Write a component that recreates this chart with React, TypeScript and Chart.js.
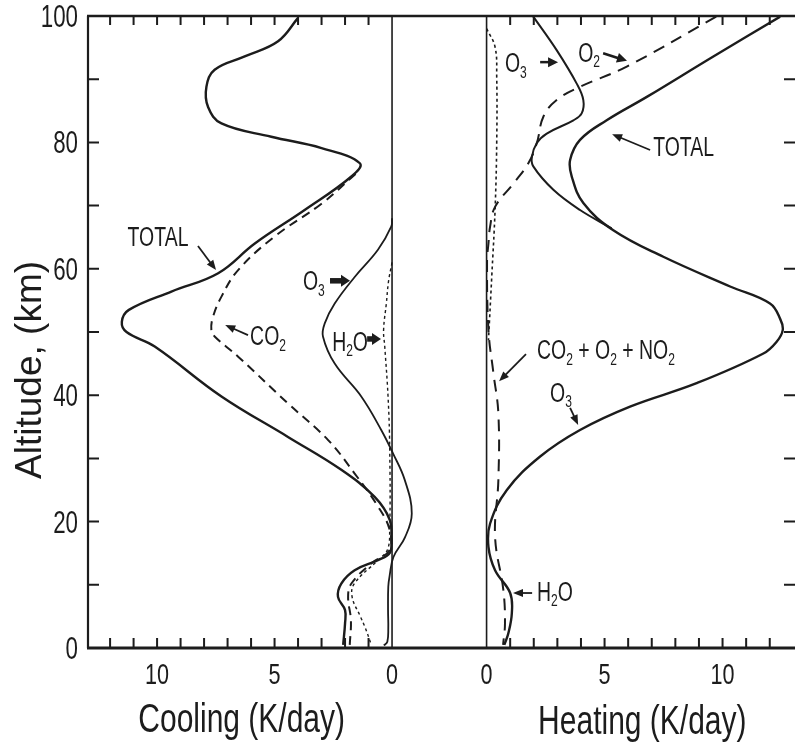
import React, { useEffect, useRef } from "react";
import { Chart, registerables } from "chart.js";

Chart.register(...registerables);

// ---------- data (altitude in km, rate in K/day) ----------
// Cooling panel
const coolTotalAlt = [99.7, 96, 93.6, 91.5, 88.8, 85.6, 83, 80.9, 79.1, 76.7, 74.6, 69.3, 64, 59.3, 56.4, 53.5, 51.6, 50.0, 47.7, 39.8, 33.4, 28.2, 23.9, 20.3, 17.1, 15, 13.9, 12.3, 10.2, 8.1, 6.0, 3.9, 0.5];
const coolTotalRate = [4.0, 4.85, 6.27, 7.55, 7.9, 7.83, 7.26, 5.14, 3.0, 1.37, 1.73, 3.72, 5.84, 7.4, 9.39, 11.2, 11.5, 11.3, 10.1, 7.26, 4.43, 2.16, 0.74, 0.1, 0.03, 0.1, 0.6, 1.59, 2.16, 2.3, 2.0, 2.0, 2.08];

const coolCO2Alt = [75.0, 70.3, 65.1, 59.8, 55.6, 52.4, 50.3, 49.3, 46.1, 38.7, 32.9, 27.6, 22.4, 18.7, 15.5, 13.4, 10.2, 8.1, 4.4, 0.5];
const coolCO2Rate = [1.55, 3.0, 5.0, 6.55, 7.26, 7.62, 7.69, 7.55, 6.55, 4.43, 2.72, 1.59, 0.6, 0.1, 0.1, 0.88, 1.73, 1.87, 1.75, 1.8];

const coolO3Alt = [68, 66.7, 63, 58.7, 54.5, 51.4, 49.3, 45, 39.8, 34.5, 30.8, 26.6, 21.3, 17.5, 14.4, 11.5, 9.7, 6, 3.1, 1.0, 0.4];
const coolO3Rate = [0.0, 0.03, 0.6, 1.59, 2.44, 2.86, 2.94, 2.44, 1.31, 0.46, -0.04, -0.54, -0.84, -0.55, -0.06, 0.1, 0.16, 0.17, 0.16, 0.2, 0.35];

const coolH2OAlt = [61, 58, 54.6, 50.3, 47.7, 39.8, 31.8, 18.7, 15.5, 13.9, 10.2, 8.1, 5, 3.4, 0.5];
const coolH2ORate = [0.0, 0.15, 0.24, 0.36, 0.31, 0.17, 0.1, 0.1, 0.2, 0.6, 1.6, 1.7, 1.35, 1.16, 0.88];

// Heating panel
const heatTotalAlt = [99.9, 93.6, 87.2, 83.5, 80.4, 77.2, 74.6, 70.4, 66.1, 61.9, 57.2, 54.5, 52.0, 50.3, 48.5, 46.6, 41.9, 38.2, 34.5, 30.3, 25, 19.7, 16, 12.3, 8.7, 5.5, 2.3, 0.5];
const heatTotalRate = [12.44, 9.61, 6.79, 5.09, 3.96, 3.54, 3.61, 4.1, 5.37, 7.49, 10.32, 12.01, 12.45, 12.55, 12.3, 11.73, 8.9, 6.08, 3.96, 2.27, 0.86, 0.15, 0.08, 0.36, 1.0, 1.07, 0.92, 0.75];

const heatO3Alt = [99.9, 94.6, 89.3, 86.7, 84.6, 83.5, 81.4, 79.9, 77.7, 76.2, 72.5, 69.3, 66.4];
const heatO3Rate = [1.98, 2.97, 3.82, 4.1, 4.03, 3.68, 2.55, 2.13, 1.92, 1.98, 2.83, 3.96, 5.3];

const heatO2Alt = [99.9, 92, 88.8, 86.7, 84.1, 79.9, 76.7, 73.5, 69.8, 66.7, 64, 61.3, 50.3, 43.5, 37.1, 26.6, 17.6, 9.2, 3.9, 0.5];
const heatO2Rate = [9.73, 5.94, 3.96, 2.97, 2.41, 2.13, 1.77, 1.14, 0.36, 0.15, 0.08, 0.02, 0.08, 0.29, 0.5, 0.5, 0.36, 0.71, 0.78, 0.7];

const heatDotAlt = [98, 95.1, 90.4, 80, 69.3, 58.8, 48.7];
const heatDotRate = [0.0, 0.36, 0.43, 0.43, 0.36, 0.22, 0.08];

// ---------- axes ----------
const altMajorTicks = [0, 20, 40, 60, 80, 100];
const altMinorTicks = [10, 30, 50, 70, 90];
const coolTickLabels = [10, 5, 0];
const heatTickLabels = [0, 5, 10];
const coolTickMarks = [1, 2, 3, 4, 5, 6, 7, 8, 9, 10, 11, 12];
const heatTickMarks = [1, 2, 3, 4, 5, 6, 7, 8, 9, 10, 11, 12];
const coolRange = [-17.15, 12.94];
const heatRange = [-16.89, 13.07];

const yTitle = "Altitude, (km)";
const coolTitle = "Cooling (K/day)";
const heatTitle = "Heating (K/day)";

// ---------- annotations (positions in data units) ----------
type Part = [string, boolean];
const labelAxis = ["xc", "xc", "xc", "xc", "xh", "xh", "xh", "xh", "xh", "xh"];
const labelX = [9.96, 6.04, 3.79, 2.55, 0.78, 3.88, 7.06, 2.14, 2.69, 2.14];
const labelY = [65.2, 49.4, 58.1, 48.6, 92.6, 94.3, 79.4, 47.2, 40.5, 9.0];
const labelParts: Part[][] = [
  [["TOTAL", false]],
  [["CO", false], ["2", true]],
  [["O", false], ["3", true]],
  [["H", false], ["2", true], ["O", false]],
  [["O", false], ["3", true]],
  [["O", false], ["2", true]],
  [["TOTAL", false]],
  [["CO", false], ["2", true], [" + O", false], ["2", true], [" + NO", false], ["2", true]],
  [["O", false], ["3", true]],
  [["H", false], ["2", true], ["O", false]],
];

// arrows: from (x1,y1) to tip (x2,y2); style 0 thin, 1 medium, 2 block
const arrowAxis = ["xc", "xc", "xc", "xc", "xh", "xh", "xh", "xh", "xh", "xh"];
const arrowX1 = [8.26, 6.13, 2.64, 1.06, 2.27, 4.94, 6.93, 1.67, 3.54, 1.93];
const arrowY1 = [63.6, 49.5, 58.1, 48.9, 92.7, 94.1, 78.8, 46.5, 38.0, 8.7];
const arrowX2 = [7.49, 7.1, 1.79, 0.47, 3.03, 5.95, 5.32, 0.53, 3.88, 1.12];
const arrowY2 = [59.8, 51.1, 58.1, 48.9, 92.7, 92.9, 81.3, 42.2, 35.3, 8.7];
const arrowStyle = [0, 0, 2, 2, 1, 1, 0, 0, 0, 0];

// ---------- helpers ----------
const INK = "#1c1c1c";
const FONT = "'Liberation Sans', Arial, Helvetica, sans-serif";

function drawRich(
  ctx: CanvasRenderingContext2D,
  parts: Part[],
  x: number,
  y: number,
  size: number,
  sx: number,
  align: "left" | "center" | "right",
  weight = "normal"
) {
  ctx.save();
  ctx.textBaseline = "alphabetic";
  ctx.textAlign = "left";
  const f = (sub: boolean) => `${weight} ${sub ? size * 0.62 : size}px ${FONT}`;
  let w = 0;
  for (const [t, sub] of parts) {
    ctx.font = f(sub);
    w += ctx.measureText(t).width;
  }
  ctx.translate(x, y);
  ctx.scale(sx, 1);
  let cx = align === "center" ? -w / 2 : align === "right" ? -w : 0;
  const base = size * 0.358;
  for (const [t, sub] of parts) {
    ctx.font = f(sub);
    ctx.fillText(t, cx, sub ? base + size * 0.2 : base);
    cx += ctx.measureText(t).width;
  }
  ctx.restore();
}

function drawArrow(ctx: CanvasRenderingContext2D, x1: number, y1: number, x2: number, y2: number, style: number) {
  const ang = Math.atan2(y2 - y1, x2 - x1);
  const headL = style === 2 ? 9 : 10;
  const headW = style === 2 ? 6 : style === 1 ? 5 : 4;
  const shaft = style === 2 ? 5.5 : style === 1 ? 2.5 : 1.8;
  ctx.save();
  ctx.translate(x2, y2);
  ctx.rotate(ang);
  const len = Math.hypot(x2 - x1, y2 - y1);
  ctx.fillStyle = INK;
  ctx.strokeStyle = INK;
  if (style === 2) {
    ctx.fillRect(-len, -shaft / 2, len - headL + 1, shaft);
  } else {
    ctx.lineWidth = shaft;
    ctx.beginPath();
    ctx.moveTo(-len, 0);
    ctx.lineTo(-headL + 2, 0);
    ctx.stroke();
  }
  ctx.beginPath();
  ctx.moveTo(0, 0);
  ctx.lineTo(-headL, -headW);
  ctx.lineTo(-headL, headW);
  ctx.closePath();
  ctx.fill();
  ctx.restore();
}

const framePlugin = {
  id: "frame",
  afterDatasetsDraw(chart: any) {
    const { ctx, chartArea: a, scales } = chart;
    const xc = scales.xc;
    const xh = scales.xh;
    const y = scales.y;
    ctx.save();
    ctx.strokeStyle = INK;
    ctx.fillStyle = INK;

    // zero lines
    ctx.lineWidth = 1.6;
    for (const px of [xc.getPixelForValue(0), xh.getPixelForValue(0)]) {
      ctx.beginPath();
      ctx.moveTo(px, a.top);
      ctx.lineTo(px, a.bottom);
      ctx.stroke();
    }

    // frame (left, top, bottom)
    ctx.lineWidth = 2.2;
    ctx.beginPath();
    ctx.moveTo(a.left, a.bottom);
    ctx.lineTo(a.left, a.top);
    ctx.stroke();
    ctx.lineWidth = 2.6;
    ctx.beginPath();
    ctx.moveTo(a.left - 1, a.top);
    ctx.lineTo(a.right, a.top);
    ctx.stroke();
    ctx.lineWidth = 3;
    ctx.beginPath();
    ctx.moveTo(a.left - 1, a.bottom);
    ctx.lineTo(a.right, a.bottom);
    ctx.stroke();

    // altitude ticks (inward, both sides)
    ctx.lineWidth = 2;
    for (const v of [...altMajorTicks, ...altMinorTicks]) {
      if (v === 0 || v === 100) continue;
      const py = y.getPixelForValue(v);
      ctx.beginPath();
      ctx.moveTo(a.left, py);
      ctx.lineTo(a.left + 11, py);
      ctx.moveTo(a.right, py);
      ctx.lineTo(a.right - 11, py);
      ctx.stroke();
    }
    // rate ticks (inward, top and bottom)
    const xs = [
      ...coolTickMarks.map((v) => xc.getPixelForValue(v)),
      ...heatTickMarks.map((v) => xh.getPixelForValue(v)),
    ];
    for (const px of xs) {
      ctx.beginPath();
      ctx.moveTo(px, a.bottom);
      ctx.lineTo(px, a.bottom - 10);
      ctx.moveTo(px, a.top);
      ctx.lineTo(px, a.top + 9);
      ctx.stroke();
    }

    // tick labels
    for (const v of altMajorTicks) {
      drawRich(ctx, [[String(v), false]], a.left - 10, y.getPixelForValue(v), 31, 0.72, "right");
    }
    for (const v of coolTickLabels) {
      drawRich(ctx, [[String(v), false]], xc.getPixelForValue(v), a.bottom + 25, 30, 0.72, "center");
    }
    for (const v of heatTickLabels) {
      drawRich(ctx, [[String(v), false]], xh.getPixelForValue(v), a.bottom + 25, 30, 0.72, "center");
    }

    // axis titles
    drawRich(ctx, [[coolTitle, false]], xc.getPixelForValue(6.4), a.bottom + 70, 40, 0.75, "center");
    drawRich(ctx, [[heatTitle, false]], xh.getPixelForValue(6.6), a.bottom + 72, 40, 0.75, "center");
    ctx.save();
    ctx.translate(28, y.getPixelForValue(44));
    ctx.rotate(-Math.PI / 2);
    drawRich(ctx, [[yTitle, false]], 0, 0, 37, 1.0, "center");
    ctx.restore();

    // annotations
    for (let i = 0; i < labelParts.length; i++) {
      const sc = labelAxis[i] === "xc" ? xc : xh;
      const align = i === 0 ? "center" : "left";
      drawRich(ctx, labelParts[i], sc.getPixelForValue(labelX[i]), y.getPixelForValue(labelY[i]), 27, 0.72, align as any);
    }
    for (let i = 0; i < arrowX1.length; i++) {
      const sc = arrowAxis[i] === "xc" ? xc : xh;
      drawArrow(
        ctx,
        sc.getPixelForValue(arrowX1[i]),
        y.getPixelForValue(arrowY1[i]),
        sc.getPixelForValue(arrowX2[i]),
        y.getPixelForValue(arrowY2[i]),
        arrowStyle[i]
      );
    }
    ctx.restore();
  },
};

function series(label: string, axis: string, alt: number[], rate: number[], width: number, dash: number[]) {
  return {
    label,
    xAxisID: axis,
    yAxisID: "y",
    data: alt.map((z, i) => ({ x: rate[i], y: z })),
    showLine: true,
    borderColor: INK,
    borderWidth: width,
    borderDash: dash,
    pointRadius: 0,
    tension: 0.4,
    fill: false,
  };
}

export default function App() {
  const ref = useRef<HTMLCanvasElement | null>(null);
  useEffect(() => {
    if (!ref.current) return;
    const chart = new Chart(ref.current, {
      type: "scatter",
      data: {
        datasets: [
          series("Cooling TOTAL", "xc", coolTotalAlt, coolTotalRate, 2.4, []),
          series("Cooling CO2", "xc", coolCO2Alt, coolCO2Rate, 2, [9, 6]),
          series("Cooling O3", "xc", coolO3Alt, coolO3Rate, 1.8, []),
          series("Cooling H2O", "xc", coolH2OAlt, coolH2ORate, 1.4, [3, 3]),
          series("Heating TOTAL", "xh", heatTotalAlt, heatTotalRate, 2.4, []),
          series("Heating O3", "xh", heatO3Alt, heatO3Rate, 2, []),
          series("Heating O2 / CO2+O2+NO2", "xh", heatO2Alt, heatO2Rate, 2, [12, 8]),
          series("Heating H2O (upper)", "xh", heatDotAlt, heatDotRate, 1.6, [3, 3]),
        ] as any,
      },
      options: {
        responsive: false,
        animation: false,
        devicePixelRatio: 1,
        layout: { padding: { left: 88, top: 16, right: 0, bottom: 101 } },
        plugins: { legend: { display: false }, tooltip: { enabled: false } },
        scales: {
          x: { type: "linear", display: false },
          xc: { type: "linear", axis: "x", display: false, reverse: true, min: coolRange[0], max: coolRange[1] },
          xh: { type: "linear", axis: "x", display: false, min: heatRange[0], max: heatRange[1] },
          y: { type: "linear", display: false, min: 0, max: 100 },
        } as any,
      },
      plugins: [framePlugin],
    });
    return () => chart.destroy();
  }, []);
  return (
    <div style={{ position: "fixed", left: 0, top: 0, width: 795, height: 749, background: "#fff" }}>
      <canvas ref={ref} width={795} height={749} style={{ display: "block" }} />
    </div>
  );
}
